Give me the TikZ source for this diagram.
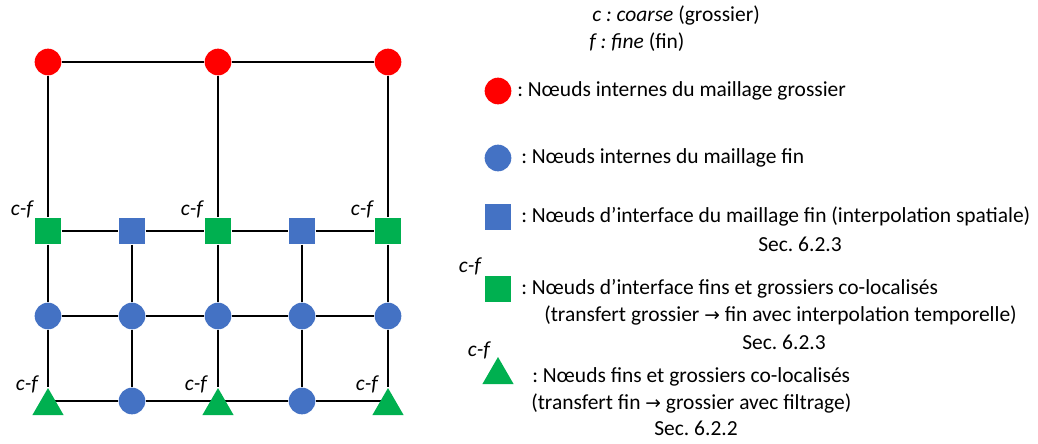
\documentclass[tikz,border=0pt]{standalone}
\usepackage{fontspec}
\setmainfont{Carlito}
\newfontfamily\arrowfont{DejaVu Sans}
\usepackage{xcolor}
\usetikzlibrary{shapes.geometric,backgrounds}
\definecolor{meshred}{HTML}{FF0000}
\definecolor{meshblue}{HTML}{4472C4}
\definecolor{meshgreen}{HTML}{00B050}
\newcommand{\toarrow}{{\arrowfont\fontsize{14}{16}\selectfont →}}
\frenchspacing

\begin{document}
\begin{tikzpicture}[
  x=0.75pt, y=-0.75pt,
  font=\fontsize{16.1}{19}\selectfont,
  coarsept/.style={circle, fill=meshred, minimum size=20pt, inner sep=0pt},
  finept/.style={circle, fill=meshblue, minimum size=20pt, inner sep=0pt},
  fineif/.style={rectangle, fill=meshblue, minimum size=20pt, inner sep=0pt},
  colocif/.style={rectangle, fill=meshgreen, minimum size=20pt, inner sep=0pt},
  coloctri/.style={regular polygon, regular polygon sides=3, fill=meshgreen,
                   minimum size=27pt, inner sep=0pt},
  cflabel/.style={font=\fontsize{16.1}{19}\selectfont\itshape, inner sep=0pt},
  legtext/.style={anchor=west, inner sep=0pt},
  link/.style={draw=black, line width=1.4pt}
]
  \useasboundingbox (0,0) rectangle (1038,443);

  % coarse mesh
  \node[coarsept] (c1) at (48,62) {};
  \node[coarsept] (c2) at (218,62) {};
  \node[coarsept] (c3) at (388,62) {};
  % interface row
  \node[colocif] (i1) at (48,231) {};
  \node[fineif] (i2) at (132,231) {};
  \node[colocif] (i3) at (218,231) {};
  \node[fineif] (i4) at (302,231) {};
  \node[colocif] (i5) at (388,231) {};
  % fine interior row
  \node[finept] (m1) at (48,316) {};
  \node[finept] (m2) at (132,316) {};
  \node[finept] (m3) at (218,316) {};
  \node[finept] (m4) at (302,316) {};
  \node[finept] (m5) at (388,316) {};
  % bottom row
  \node[coloctri] (b1) at (48,406) {};
  \node[finept] (b2) at (132,401) {};
  \node[coloctri] (b3) at (218,406) {};
  \node[finept] (b4) at (302,401) {};
  \node[coloctri] (b5) at (388,406) {};

  \begin{scope}[on background layer]
  \draw[link] (c1) -- (c2) -- (c3);
  \draw[link] (c1) -- (i1);
  \draw[link] (c2) -- (i3);
  \draw[link] (c3) -- (i5);
  \draw[link] (i1) -- (i2) -- (i3) -- (i4) -- (i5);
  \draw[link] (m1) -- (m2) -- (m3) -- (m4) -- (m5);
  \draw[link] (b1.center |- b2) -- (b2) -- (b3.center |- b2);
  \draw[link] (b3.center |- b4) -- (b4) -- (b5.center |- b4);
  \draw[link] (i1) -- (m1) -- (b1);
  \draw[link] (i2) -- (m2) -- (b2);
  \draw[link] (i3) -- (m3) -- (b3);
  \draw[link] (i4) -- (m4) -- (b4);
  \draw[link] (i5) -- (m5) -- (b5);
  \end{scope}

  % c-f labels
  \node[cflabel] (cf1) at (22,209) {c-f};
  \node[cflabel] (cf2) at (192,209) {c-f};
  \node[cflabel] (cf3) at (362,209) {c-f};
  \node[cflabel] (cf4) at (27,384) {c-f};
  \node[cflabel] (cf5) at (196,384) {c-f};
  \node[cflabel] (cf6) at (367,384) {c-f};

  % legend
  \node[legtext] (notec) at (592,15) {\textit{c : coarse} (grossier)};
  \node[legtext] (notef) at (589,42) {\textit{f : fine} (fin)};

  \node[coarsept] (kc) at (498,91) {};
  \node[legtext] (legc) at (517,91) {: Nœuds internes du maillage grossier};

  \node[finept] (kf) at (498,158) {};
  \node[legtext] (legf) at (521,158) {: Nœuds internes du maillage fin};

  \node[fineif] (ki) at (498,217) {};
  \node[legtext] (legi) at (521,216) {: Nœuds d’interface du maillage fin (interpolation spatiale)};
  \node (seci) at (800,244) {Sec. 6.2.3};

  \node[cflabel] (cfg) at (470,266) {c-f};
  \node[colocif] (kg) at (498,289) {};
  \node[legtext] (legg) at (521,289) {: Nœuds d’interface fins et grossiers co-localisés};
  \node[legtext] (leggb) at (544,315) {(transfert grossier \toarrow{} fin avec interpolation temporelle)};
  \node (secg) at (784,342) {Sec. 6.2.3};

  \node[cflabel] (cft) at (479,350) {c-f};
  \node[coloctri] (kt) at (498,375) {};
  \node[legtext] (legt) at (532,377) {: Nœuds fins et grossiers co-localisés};
  \node[legtext] (legtb) at (531,403) {(transfert fin \toarrow{} grossier avec filtrage)};
  \node (sect) at (696,428) {Sec. 6.2.2};
\end{tikzpicture}
\end{document}
